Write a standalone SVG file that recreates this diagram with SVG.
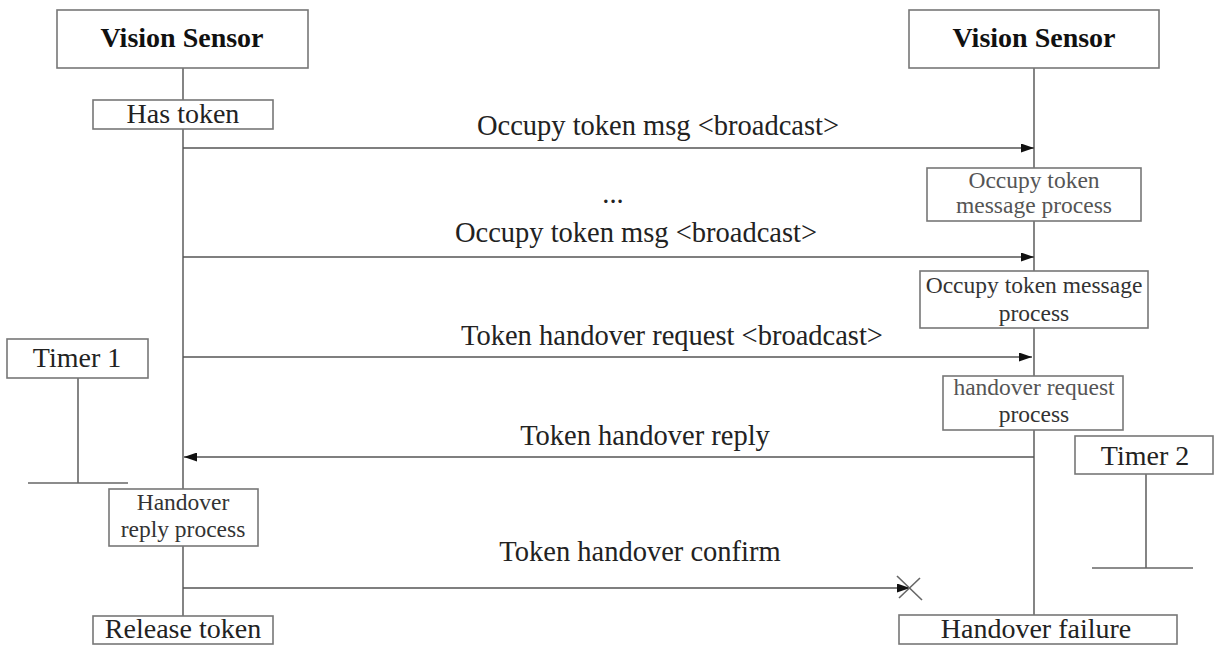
<svg xmlns="http://www.w3.org/2000/svg" width="1214" height="645" viewBox="0 0 1214 645">
<style>
.box{fill:#fff;stroke:#777;stroke-width:1.6}
.life{stroke:#666;stroke-width:1.6;fill:none}
.msg{stroke:#555;stroke-width:1.6;fill:none}
.t{font-family:"Liberation Serif","Times New Roman",serif;font-size:28px;fill:#222;text-anchor:middle}
.lbl{font-size:28.5px}
.s{font-family:"Liberation Serif","Times New Roman",serif;font-size:23.5px;fill:#333;text-anchor:middle}
.g{fill:#555}
.b{font-weight:bold;fill:#111}
</style>
<defs>
<marker id="ah" viewBox="0 0 13 9" refX="13" refY="4.5" markerWidth="13" markerHeight="9" markerUnits="userSpaceOnUse" orient="auto">
<path d="M0,0 L13,4.5 L0,9 Z" fill="#111"/>
</marker>
</defs>
<rect width="1214" height="645" fill="#fff"/>
<g id="connectors">
<line class="life" x1="183" y1="68" x2="183" y2="616"/>
<line class="life" x1="1034" y1="68" x2="1034" y2="615"/>
<line class="life" x1="78" y1="378" x2="78" y2="483"/>
<line class="life" x1="28" y1="483" x2="128" y2="483"/>
<line class="life" x1="1146" y1="474" x2="1146" y2="568"/>
<line class="life" x1="1092" y1="568" x2="1193" y2="568"/>
<line class="msg" x1="183" y1="148" x2="1034" y2="148" marker-end="url(#ah)"/>
<line class="msg" x1="183" y1="257" x2="1034" y2="257" marker-end="url(#ah)"/>
<line class="msg" x1="183" y1="357" x2="1032" y2="357" marker-end="url(#ah)"/>
<line class="msg" x1="1034" y1="457" x2="184" y2="457" marker-end="url(#ah)"/>
<line class="msg" x1="183" y1="588" x2="910" y2="588" marker-end="url(#ah)"/>
<line class="life" x1="897" y1="576" x2="922" y2="600"/>
<line class="life" x1="920" y1="578" x2="899" y2="598"/>
<text class="t lbl" x="658" y="135">Occupy token msg &lt;broadcast&gt;</text>
<text class="t lbl" x="613" y="203">...</text>
<text class="t lbl" x="636" y="242">Occupy token msg &lt;broadcast&gt;</text>
<text class="t lbl" x="672" y="345">Token handover request &lt;broadcast&gt;</text>
<text class="t lbl" x="645" y="445">Token handover reply</text>
<text class="t lbl" x="640" y="561">Token handover confirm</text>
</g>
<g id="sensor-left">
<rect class="box" x="57" y="10" width="251" height="58"/>
<text class="t b" x="182" y="47">Vision Sensor</text>
</g>
<g id="sensor-right">
<rect class="box" x="909" y="10" width="250" height="58"/>
<text class="t b" x="1034" y="47">Vision Sensor</text>
</g>
<g id="has-token">
<rect class="box" x="93" y="100" width="180" height="29"/>
<text class="t" x="183" y="123">Has token</text>
</g>
<g id="occupy-process-1">
<rect class="box" x="927" y="168" width="214" height="53"/>
<text class="s g" x="1034" y="188">Occupy token</text>
<text class="s g" x="1034" y="213">message process</text>
</g>
<g id="occupy-process-2">
<rect class="box" x="920" y="271" width="228" height="57"/>
<text class="s" x="1034" y="293">Occupy token message</text>
<text class="s" x="1034" y="321">process</text>
</g>
<g id="handover-request-process">
<rect class="box" x="943" y="376" width="180" height="54"/>
<text class="s g" x="1034" y="395">handover request</text>
<text class="s" x="1034" y="422">process</text>
</g>
<g id="timer1">
<rect class="box" x="7" y="339" width="141" height="39"/>
<text class="t" x="77" y="367">Timer 1</text>
</g>
<g id="timer2">
<rect class="box" x="1075" y="436" width="138" height="38"/>
<text class="t" x="1145" y="465">Timer 2</text>
</g>
<g id="handover-reply-process">
<rect class="box" x="109" y="489" width="149" height="57"/>
<text class="s" x="183" y="510">Handover</text>
<text class="s" x="183" y="537">reply process</text>
</g>
<g id="release-token">
<rect class="box" x="93" y="616" width="180" height="28"/>
<text class="t" x="183" y="638">Release token</text>
</g>
<g id="handover-failure">
<rect class="box" x="899" y="615" width="278" height="29"/>
<text class="t" x="1036" y="638">Handover failure</text>
</g>
</svg>
